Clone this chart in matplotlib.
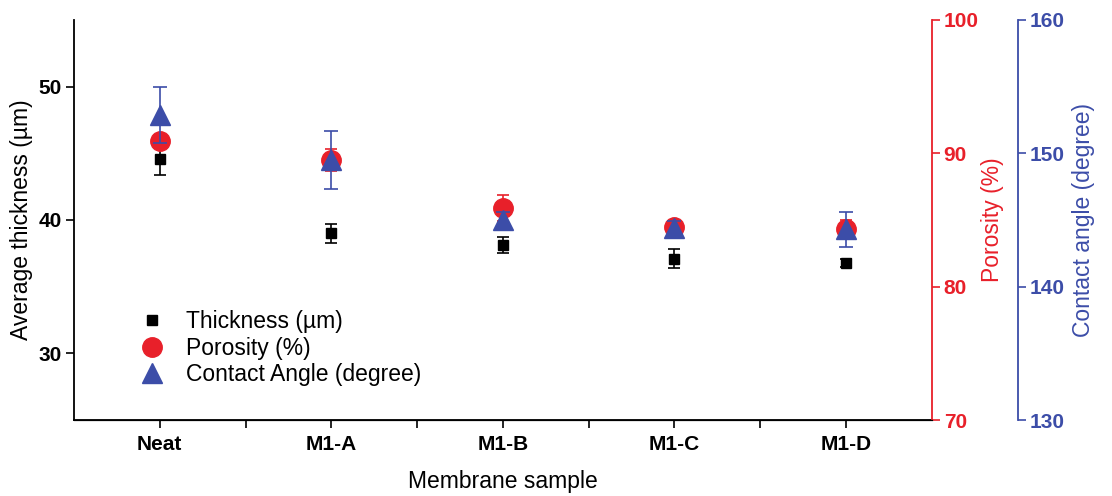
import matplotlib
matplotlib.use("Agg")
import matplotlib.pyplot as plt
import numpy as np

plt.rcParams['font.family'] = ['Liberation Sans', 'DejaVu Sans']

samples = ['Neat', 'M1-A', 'M1-B', 'M1-C', 'M1-D']
thickness = [44.6, 39.0, 38.1, 37.1, 36.8]
thickness_err = [1.2, 0.7, 0.6, 0.7, 0.3]
porosity = [90.9, 89.5, 85.9, 84.5, 84.3]
porosity_err = [0.5, 0.8, 1.0, 0.3, 0.7]
contact = [152.9, 149.5, 145.0, 144.4, 144.3]
contact_err = [2.1, 2.2, 0.6, 0.5, 1.3]

red = '#E8202A'
blue = '#3C4DA8'
tick_fs = 15
label_fs = 16.5

fig = plt.figure(figsize=(11.12, 4.96), dpi=100)
ax1 = fig.add_axes([0.0665, 0.153, 0.7715, 0.807])
ax2 = ax1.twinx()
ax3 = ax1.twinx()

x = np.arange(len(samples))

ax1.errorbar(x, thickness, yerr=thickness_err, fmt='s', color='black',
             markersize=7, capsize=4, elinewidth=1.2, capthick=1.2,
             label='Thickness (µm)', zorder=3)
ax2.errorbar(x, porosity, yerr=porosity_err, fmt='o', color=red,
             markersize=14, capsize=4, elinewidth=1.2, capthick=1.2,
             label='Porosity (%)', zorder=3)
ax3.errorbar(x, contact, yerr=contact_err, fmt='^', color=blue,
             markersize=15, capsize=5, elinewidth=1.2, capthick=1.2,
             label='Contact Angle (degree)', zorder=3)

ax1.set_xlim(-0.5, 4.5)
ax1.set_ylim(25, 55)
ax2.set_ylim(70, 100)
ax3.set_ylim(130, 160)

ax1.set_xticks(x)
ax1.set_xticklabels(samples, fontweight='bold', fontsize=tick_fs)
ax1.set_xticks(x[:-1] + 0.5, minor=True)
ax1.tick_params(axis='x', which='both', direction='out', length=5.5, width=1.2, pad=5)
ax1.set_yticks([30, 40, 50])
ax1.tick_params(axis='y', direction='out', length=5.5, width=1.2, labelsize=tick_fs, pad=3)
for t in ax1.get_yticklabels():
    t.set_fontweight('bold')

ax2.set_yticks([70, 80, 90, 100])
ax2.tick_params(axis='y', colors=red, direction='out', length=5.5, width=1.2,
                labelsize=tick_fs, pad=3)
for t in ax2.get_yticklabels():
    t.set_fontweight('bold')

ax3.spines['right'].set_position(('outward', 62))
ax3.set_yticks([130, 140, 150, 160])
ax3.tick_params(axis='y', colors=blue, direction='out', length=5.5, width=1.2,
                labelsize=tick_fs, pad=3)
for t in ax3.get_yticklabels():
    t.set_fontweight('bold')

for ax in (ax1, ax2, ax3):
    ax.spines['top'].set_visible(False)
ax1.spines['right'].set_visible(False)
ax2.spines['left'].set_visible(False)
ax3.spines['left'].set_visible(False)
ax1.spines['left'].set_linewidth(1.3)
ax1.spines['bottom'].set_linewidth(1.3)
ax2.spines['right'].set_color(red)
ax2.spines['right'].set_linewidth(1.3)
ax3.spines['right'].set_color(blue)
ax3.spines['right'].set_linewidth(1.3)

ax1.set_xlabel('Membrane sample', fontsize=label_fs, labelpad=12)
ax1.set_ylabel('Average thickness (µm)', fontsize=label_fs, labelpad=4)
ax2.set_ylabel('Porosity (%)', fontsize=label_fs, color=red, labelpad=2)
ax3.set_ylabel('Contact angle (degree)', fontsize=label_fs, color=blue, labelpad=5)

handles = []
labels = []
for ax in (ax1, ax2, ax3):
    h, l = ax.get_legend_handles_labels()
    handles += h
    labels += l
handles = [h[0] for h in handles]
ax3.legend(handles, labels, loc='lower left', bbox_to_anchor=(0.04, 0.033),
           frameon=False, fontsize=label_fs, handletextpad=0.5, labelspacing=0.15)

fig.savefig('out.png', dpi=100)
